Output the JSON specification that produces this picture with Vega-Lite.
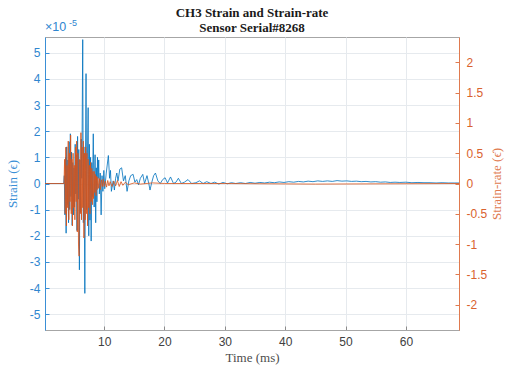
{
  "$schema": "https://vega.github.io/schema/vega-lite/v6.json",
  "width": 414,
  "height": 293,
  "autosize": {"type": "none"},
  "padding": {"left": 45, "top": 37, "right": 48, "bottom": 42},
  "background": "white",
  "title": {
    "text": ["CH3 Strain and Strain-rate", "Sensor Serial#8268"],
    "font": "Liberation Serif",
    "fontSize": 13,
    "fontWeight": "bold",
    "color": "#1a1a1a",
    "lineHeight": 15,
    "offset": -16,
    "frame": "group",
    "anchor": "middle"
  },
  "config": {
    "view": {"stroke": "#a6a6a6", "strokeWidth": 1},
    "axis": {
      "labelFont": "Liberation Sans",
      "labelFontSize": 12,
      "labelOverlap": false,
      "titleFont": "Liberation Serif",
      "titleFontSize": 13,
      "titleFontWeight": "normal",
      "gridColor": "#e6eaee",
      "gridWidth": 1
    }
  },
  "datasets": {
    "strain": [
      {"t": 0.2, "strain": 0}, {"t": 3.3, "strain": 0},
      {"t": 3.4, "strain": 0.3e-5}, {"t": 3.5, "strain": -1.2e-5}, {"t": 3.6, "strain": 1.0e-5}, {"t": 3.7, "strain": -1.9e-5},
      {"t": 3.8, "strain": 1.4e-5}, {"t": 3.9, "strain": -0.8e-5}, {"t": 4.0, "strain": 0.9e-5}, {"t": 4.1, "strain": -1.5e-5},
      {"t": 4.2, "strain": 1.6e-5}, {"t": 4.3, "strain": -1.0e-5}, {"t": 4.4, "strain": 1.9e-5}, {"t": 4.5, "strain": -0.5e-5},
      {"t": 4.6, "strain": 1.2e-5}, {"t": 4.7, "strain": -1.6e-5}, {"t": 4.8, "strain": 0.8e-5}, {"t": 4.9, "strain": -1.2e-5},
      {"t": 5.0, "strain": 0.6e-5}, {"t": 5.1, "strain": -0.9e-5}, {"t": 5.2, "strain": 1.5e-5}, {"t": 5.3, "strain": -0.4e-5},
      {"t": 5.4, "strain": 1.1e-5}, {"t": 5.5, "strain": -1.8e-5}, {"t": 5.6, "strain": 1.8e-5}, {"t": 5.7, "strain": -0.6e-5},
      {"t": 5.8, "strain": 1.3e-5}, {"t": 5.9, "strain": -3.3e-5}, {"t": 6.0, "strain": 0.9e-5}, {"t": 6.1, "strain": -1.1e-5},
      {"t": 6.2, "strain": 1.7e-5}, {"t": 6.3, "strain": 0.2e-5}, {"t": 6.45, "strain": 5.5e-5}, {"t": 6.55, "strain": -1.5e-5},
      {"t": 6.65, "strain": 1.4e-5}, {"t": 6.8, "strain": -4.2e-5}, {"t": 6.9, "strain": 0.5e-5}, {"t": 7.0, "strain": 4.2e-5},
      {"t": 7.1, "strain": -1.0e-5}, {"t": 7.35, "strain": 2.9e-5}, {"t": 7.45, "strain": -2.0e-5}, {"t": 7.55, "strain": 1.5e-5},
      {"t": 7.65, "strain": -1.4e-5}, {"t": 7.75, "strain": 1.0e-5}, {"t": 7.85, "strain": -2.2e-5}, {"t": 7.95, "strain": 0.8e-5},
      {"t": 8.05, "strain": -0.5e-5}, {"t": 8.2, "strain": 1.9e-5}, {"t": 8.35, "strain": -0.9e-5}, {"t": 8.5, "strain": 1.1e-5},
      {"t": 8.6, "strain": -1.5e-5}, {"t": 8.7, "strain": 0.6e-5}, {"t": 8.8, "strain": -0.7e-5}, {"t": 8.9, "strain": 1.0e-5},
      {"t": 9.0, "strain": 0.2e-5}, {"t": 9.1, "strain": 0.9e-5}, {"t": 9.2, "strain": -0.4e-5}, {"t": 9.35, "strain": 0.4e-5},
      {"t": 9.5, "strain": -1.2e-5}, {"t": 9.65, "strain": 0.3e-5}, {"t": 9.8, "strain": -0.3e-5}, {"t": 9.95, "strain": 0.5e-5},
      {"t": 10.1, "strain": -0.2e-5}, {"t": 10.35, "strain": 0.4e-5}, {"t": 10.7, "strain": 1.07e-5}, {"t": 10.9, "strain": 0.2e-5},
      {"t": 11.05, "strain": 0.5e-5}, {"t": 11.2, "strain": -0.3e-5}, {"t": 11.5, "strain": 0.1e-5}, {"t": 11.7, "strain": -0.25e-5},
      {"t": 11.9, "strain": 0.2e-5}, {"t": 12.1, "strain": 0.4e-5}, {"t": 12.3, "strain": 0.1e-5}, {"t": 12.6, "strain": 0.55e-5},
      {"t": 12.9, "strain": 0.6e-5}, {"t": 13.2, "strain": 0.1e-5}, {"t": 13.5, "strain": 0.3e-5}, {"t": 13.8, "strain": -0.3e-5},
      {"t": 14.1, "strain": 0.1e-5}, {"t": 14.4, "strain": 0.3e-5}, {"t": 14.8, "strain": 0.35e-5}, {"t": 15.1, "strain": 0.05e-5},
      {"t": 15.4, "strain": 0.15e-5}, {"t": 15.7, "strain": -0.05e-5}, {"t": 16.0, "strain": 0.2e-5}, {"t": 16.4, "strain": 0.35e-5},
      {"t": 16.7, "strain": 0.0}, {"t": 17.1, "strain": 0.3e-5}, {"t": 17.4, "strain": 0.0}, {"t": 17.6, "strain": -0.25e-5},
      {"t": 17.9, "strain": 0.05e-5}, {"t": 18.2, "strain": 0.3e-5}, {"t": 18.5, "strain": 0.4e-5}, {"t": 18.9, "strain": 0.1e-5},
      {"t": 19.3, "strain": 0.0}, {"t": 19.7, "strain": 0.15e-5}, {"t": 20.1, "strain": 0.22e-5}, {"t": 20.5, "strain": 0.02e-5},
      {"t": 21.0, "strain": 0.25e-5}, {"t": 21.5, "strain": 0.0}, {"t": 21.9, "strain": 0.05e-5}, {"t": 22.3, "strain": 0.2e-5},
      {"t": 22.8, "strain": 0.0}, {"t": 23.3, "strain": 0.05e-5}, {"t": 23.9, "strain": 0.15e-5}, {"t": 24.5, "strain": 0.0},
      {"t": 25.2, "strain": 0.03e-5}, {"t": 25.8, "strain": 0.1e-5}, {"t": 26.4, "strain": 0.0}, {"t": 27.0, "strain": 0.07e-5},
      {"t": 27.7, "strain": 0.0}, {"t": 28.3, "strain": 0.05e-5}, {"t": 29.0, "strain": -0.02e-5}, {"t": 29.7, "strain": 0.04e-5},
      {"t": 30.4, "strain": -0.01e-5}, {"t": 31.1, "strain": 0.03e-5}, {"t": 31.8, "strain": 0.0}, {"t": 32.6, "strain": 0.03e-5},
      {"t": 33.4, "strain": 0.0}, {"t": 34.2, "strain": 0.04e-5}, {"t": 35.0, "strain": 0.01e-5}, {"t": 35.8, "strain": 0.04e-5},
      {"t": 36.6, "strain": 0.02e-5}, {"t": 37.4, "strain": 0.05e-5}, {"t": 38.2, "strain": 0.03e-5}, {"t": 39.0, "strain": 0.06e-5},
      {"t": 39.8, "strain": 0.04e-5}, {"t": 40.6, "strain": 0.07e-5}, {"t": 41.4, "strain": 0.05e-5}, {"t": 42.2, "strain": 0.08e-5},
      {"t": 43.0, "strain": 0.06e-5}, {"t": 43.8, "strain": 0.09e-5}, {"t": 44.6, "strain": 0.07e-5}, {"t": 45.4, "strain": 0.1e-5},
      {"t": 46.2, "strain": 0.08e-5}, {"t": 47.0, "strain": 0.1e-5}, {"t": 47.8, "strain": 0.08e-5}, {"t": 48.6, "strain": 0.11e-5},
      {"t": 49.4, "strain": 0.09e-5}, {"t": 50.2, "strain": 0.1e-5}, {"t": 51.0, "strain": 0.08e-5}, {"t": 51.8, "strain": 0.09e-5},
      {"t": 52.6, "strain": 0.07e-5}, {"t": 53.4, "strain": 0.08e-5}, {"t": 54.2, "strain": 0.06e-5}, {"t": 55.0, "strain": 0.07e-5},
      {"t": 55.8, "strain": 0.05e-5}, {"t": 56.6, "strain": 0.06e-5}, {"t": 57.4, "strain": 0.04e-5}, {"t": 58.2, "strain": 0.05e-5},
      {"t": 59.0, "strain": 0.04e-5}, {"t": 60.0, "strain": 0.05e-5}, {"t": 61.0, "strain": 0.03e-5}, {"t": 62.0, "strain": 0.04e-5},
      {"t": 63.0, "strain": 0.03e-5}, {"t": 64.0, "strain": 0.03e-5}, {"t": 65.0, "strain": 0.02e-5}, {"t": 66.0, "strain": 0.03e-5},
      {"t": 67.0, "strain": 0.02e-5}, {"t": 68.0, "strain": 0.02e-5}, {"t": 68.8, "strain": 0.02e-5}
    ],
    "rate": [
      {"t": 0.2, "rate": 0}, {"t": 3.35, "rate": 0},
      {"t": 3.45, "rate": 0.4}, {"t": 3.55, "rate": -0.5}, {"t": 3.65, "rate": 0.6}, {"t": 3.75, "rate": -0.7},
      {"t": 3.85, "rate": 0.3}, {"t": 3.95, "rate": -0.4}, {"t": 4.05, "rate": 0.7}, {"t": 4.15, "rate": -0.6},
      {"t": 4.25, "rate": 0.5}, {"t": 4.35, "rate": -0.3}, {"t": 4.45, "rate": 0.8}, {"t": 4.55, "rate": -0.5},
      {"t": 4.65, "rate": 0.4}, {"t": 4.75, "rate": -0.7}, {"t": 4.85, "rate": 0.5}, {"t": 4.95, "rate": -0.4},
      {"t": 5.05, "rate": 0.3}, {"t": 5.15, "rate": -0.6}, {"t": 5.25, "rate": 0.6}, {"t": 5.35, "rate": -0.3},
      {"t": 5.45, "rate": 0.7}, {"t": 5.55, "rate": -0.8}, {"t": 5.65, "rate": 0.5}, {"t": 5.75, "rate": -1.0},
      {"t": 5.85, "rate": -1.2}, {"t": 5.95, "rate": 0.4}, {"t": 6.05, "rate": -0.5}, {"t": 6.15, "rate": 0.84},
      {"t": 6.25, "rate": -0.6}, {"t": 6.35, "rate": 0.6}, {"t": 6.45, "rate": -0.4}, {"t": 6.55, "rate": 0.7},
      {"t": 6.65, "rate": -0.9}, {"t": 6.75, "rate": 0.5}, {"t": 6.85, "rate": -0.6}, {"t": 6.95, "rate": 0.6},
      {"t": 7.05, "rate": -0.5}, {"t": 7.15, "rate": 0.5}, {"t": 7.25, "rate": -0.7}, {"t": 7.35, "rate": 0.4},
      {"t": 7.45, "rate": -0.4}, {"t": 7.55, "rate": 0.3}, {"t": 7.65, "rate": -0.5}, {"t": 7.75, "rate": 0.35},
      {"t": 7.85, "rate": -0.3}, {"t": 7.95, "rate": 0.25}, {"t": 8.05, "rate": -0.35}, {"t": 8.15, "rate": 0.2},
      {"t": 8.25, "rate": -0.25}, {"t": 8.35, "rate": 0.2}, {"t": 8.45, "rate": -0.15}, {"t": 8.55, "rate": 0.15},
      {"t": 8.65, "rate": -0.2}, {"t": 8.75, "rate": 0.12}, {"t": 8.85, "rate": -0.1}, {"t": 8.95, "rate": 0.1},
      {"t": 9.1, "rate": -0.08}, {"t": 9.25, "rate": 0.08}, {"t": 9.4, "rate": -0.1}, {"t": 9.55, "rate": 0.06},
      {"t": 9.7, "rate": -0.05}, {"t": 9.85, "rate": 0.07}, {"t": 10.0, "rate": -0.05}, {"t": 10.2, "rate": 0.04},
      {"t": 10.4, "rate": -0.06}, {"t": 10.6, "rate": 0.05}, {"t": 10.8, "rate": -0.04}, {"t": 11.0, "rate": 0.03},
      {"t": 11.3, "rate": -0.05}, {"t": 11.6, "rate": 0.04}, {"t": 11.9, "rate": -0.04}, {"t": 12.2, "rate": 0.05},
      {"t": 12.5, "rate": -0.05}, {"t": 12.8, "rate": 0.03}, {"t": 13.1, "rate": -0.03}, {"t": 13.5, "rate": 0.02},
      {"t": 14.0, "rate": -0.02}, {"t": 15.0, "rate": 0.01}, {"t": 16.0, "rate": -0.01}, {"t": 18.0, "rate": 0.01},
      {"t": 20.0, "rate": 0}, {"t": 30.0, "rate": 0}, {"t": 45.0, "rate": -0.01}, {"t": 68.8, "rate": 0}
    ],
    "multiplier": [{"base": "×10", "exp": "-5"}]
  },
  "layer": [
    {
      "data": {"name": "strain"},
      "mark": {"type": "line", "color": "#0072BD", "strokeWidth": 0.9, "opacity": 0.9, "clip": true},
      "encoding": {
        "x": {
          "field": "t", "type": "quantitative",
          "scale": {"domain": [0.2, 68.8], "nice": false, "zero": false},
          "axis": {
            "values": [10, 20, 30, 40, 50, 60],
            "title": "Time (ms)",
            "grid": true,
            "domainColor": "#a6a6a6",
            "tickColor": "#8c8c8c",
            "tickSize": -4,
            "labelColor": "#404040",
            "labelPadding": 10,
            "titleColor": "#4d4d4d",
            "titlePadding": 4
          }
        },
        "y": {
          "field": "strain", "type": "quantitative",
          "scale": {"domain": [-5.6e-5, 5.6e-5], "nice": false, "zero": false},
          "axis": {
            "values": [-5e-5, -4e-5, -3e-5, -2e-5, -1e-5, 0, 1e-5, 2e-5, 3e-5, 4e-5, 5e-5],
            "labelExpr": "'' + round(datum.value * 1e5)",
            "labelOverlap": false,
            "title": "Strain (ϵ)",
            "grid": true,
            "domainColor": "#3a8fd6",
            "tickColor": "#3a8fd6",
            "tickSize": -4,
            "labelColor": "#2f86cf",
            "labelPadding": 9,
            "titleColor": "#3a8fd6",
            "titlePadding": 10
          }
        }
      }
    },
    {
      "data": {"name": "rate"},
      "mark": {"type": "line", "color": "#D95319", "strokeWidth": 0.9, "opacity": 0.9, "clip": true},
      "encoding": {
        "x": {"field": "t", "type": "quantitative"},
        "y": {
          "field": "rate", "type": "quantitative",
          "scale": {"domain": [-2.42, 2.42], "nice": false, "zero": false},
          "axis": {
            "orient": "right",
            "values": [-2, -1.5, -1, -0.5, 0, 0.5, 1, 1.5, 2],
            "labelExpr": "'' + datum.value",
            "labelOverlap": false,
            "title": "Strain-rate (ϵ̇)",
            "titleAngle": 270,
            "titleBaseline": "top",
            "grid": false,
            "domainColor": "#e07a4f",
            "tickColor": "#e07a4f",
            "tickSize": -4,
            "labelColor": "#d9622e",
            "labelPadding": 11,
            "titleColor": "#e07a4f",
            "titlePadding": 4
          }
        }
      }
    },
    {
      "data": {"name": "multiplier"},
      "layer": [
        {
          "mark": {"type": "text", "align": "left", "baseline": "bottom", "dy": -3, "font": "Liberation Sans", "fontSize": 12.5, "color": "#2f86cf"},
          "encoding": {
            "x": {"datum": 0.2, "type": "quantitative"},
            "y": {"datum": 1, "type": "quantitative", "scale": {"domain": [0, 1]}, "axis": null},
            "text": {"field": "base"}
          }
        },
        {
          "mark": {"type": "text", "align": "left", "baseline": "bottom", "dx": 24, "dy": -9, "font": "Liberation Sans", "fontSize": 9, "color": "#2f86cf"},
          "encoding": {
            "x": {"datum": 0.2, "type": "quantitative"},
            "y": {"datum": 1, "type": "quantitative", "scale": {"domain": [0, 1]}, "axis": null},
            "text": {"field": "exp"}
          }
        }
      ]
    }
  ],
  "resolve": {"scale": {"y": "independent"}}
}
